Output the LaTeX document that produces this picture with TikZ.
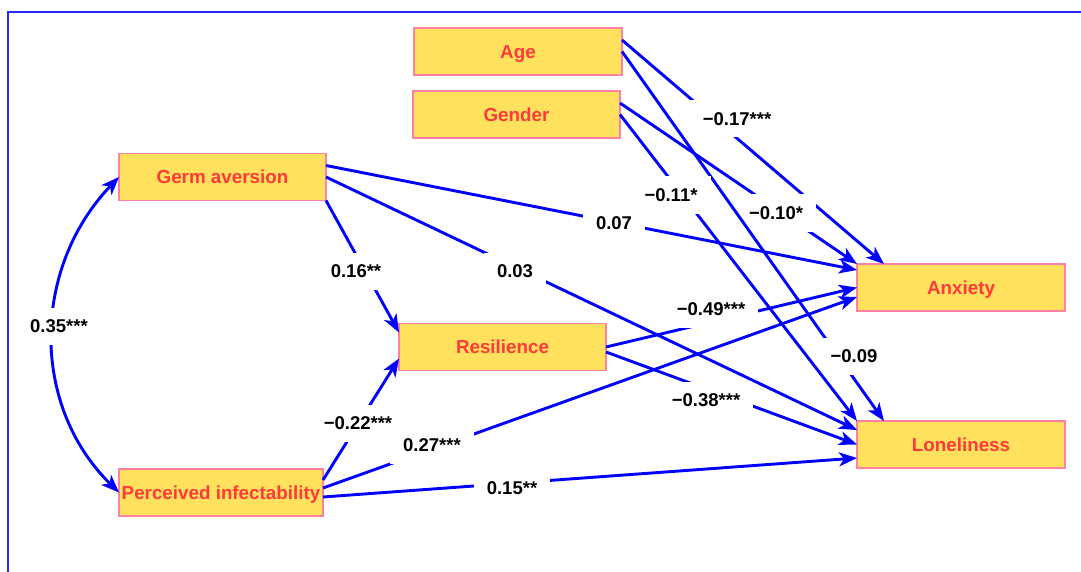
\documentclass[tikz,border=0pt]{standalone}
\usepackage{fontspec}
\setmainfont{Liberation Sans}
\usetikzlibrary{arrows.meta,calc}
\definecolor{boxfill}{RGB}{255,225,94}
\definecolor{boxline}{RGB}{255,128,160}
\definecolor{boxtext}{RGB}{255,58,58}
\definecolor{arrblue}{RGB}{0,0,255}
\definecolor{framecol}{RGB}{40,40,255}
\begin{document}
\begin{tikzpicture}[x=1pt,y=-1pt,
  var/.style={draw=boxline, line width=1.5pt, fill=boxfill, minimum width=207pt,
    minimum height=47pt, inner sep=0pt, outer sep=0pt, text=boxtext,
    text height=13.5pt, text depth=0pt,
    font=\fontsize{18.8}{22}\selectfont\bfseries},
  coef/.style={fill=white, inner xsep=13pt, inner ysep=12pt, text height=13pt,
    text depth=0pt, font=\fontsize{18.5}{22}\selectfont\bfseries, text=black},
  link/.style={draw=arrblue, line width=2.9pt,
    -{Stealth[length=18pt,width=14pt,inset=5pt]}},
  frameline/.style={draw=framecol, line width=1.8pt},
]
\useasboundingbox (0,0) rectangle (1081,572);
\coordinate (fa) at (1081,12);
\coordinate (fb) at (8,12);
\coordinate (fc) at (8,572);
\draw[frameline] (fa) -- (fb) -- (fc);

\node[var, minimum width=208pt] (age) at (518,51.5) {Age};
\node[var] (gender) at (516.5,114.5) {Gender};
\node[var] (germ) at (222.5,177) {Germ aversion};
\node[var] (res) at (502.5,347) {Resilience};
\node[var, minimum width=204pt] (perc) at (221,492.5) {Perceived infectability};
\node[var, minimum width=208pt] (anx) at (961,287.5) {Anxiety};
\node[var, minimum width=208pt] (lon) at (961,444.5) {Loneliness};

% covariance
\draw[link, {Stealth[length=18pt,width=14pt,inset=5pt]}-{Stealth[length=18pt,width=14pt,inset=5pt]}]
  (germ.west) .. controls (32,268) and (30,405) .. (perc.west);
\node[coef] (c35) at (59,326) {0.35***};

\draw[link] ($(germ.north east)+(0,12)$) -- ($(anx.west)+(0,-17.5)$);
\node[coef] (c07) at (614,223) {0.07};
\draw[link] (germ.east) -- ($(lon.north west)+(0,9)$);
\node[coef] (c03) at (515,271) {0.03};
\draw[link] (germ.south east) -- ($(res.north west)+(0,9)$);
\node[coef] (c16) at (356,271) {0.16**};
\draw[link] ($(perc.north east)+(0,11)$) -- ($(res.south west)+(0,-12)$);
\node[coef] (c22) at (358,423) {−0.22***};
\draw[link] ($(perc.east)+(0,-4.5)$) -- ($(anx.west)+(0,9.5)$);
\node[coef] (c27) at (432,445) {0.27***};
\draw[link] ($(perc.east)+(0,4.5)$) -- ($(lon.west)+(0,13.5)$);
\node[coef] (c15) at (512,488) {0.15**};
\draw[link] (res.east) -- (anx.west);
\node[coef] (c49) at (711,309) {−0.49***};
\draw[link] ($(res.east)+(0,5)$) -- (lon.west);
\node[coef] (c38) at (706,400) {−0.38***};
\draw[link] ($(age.north east)+(0,12)$) -- ($(anx.north west)+(27,0)$);
\node[coef] (c17) at (737,119) {−0.17***};
\draw[link] ($(gender.north east)+(0,12)$) -- (anx.north west);
\node[coef] (c10) at (776,213) {−0.10*};
\draw[link] (age.east) -- ($(lon.north west)+(27,0)$);
\node[coef] (c09) at (854,356) {−0.09};
\draw[link] (gender.east) -- (lon.north west);
\node[coef] (c11) at (671,195) {−0.11*};
\end{tikzpicture}
\end{document}
